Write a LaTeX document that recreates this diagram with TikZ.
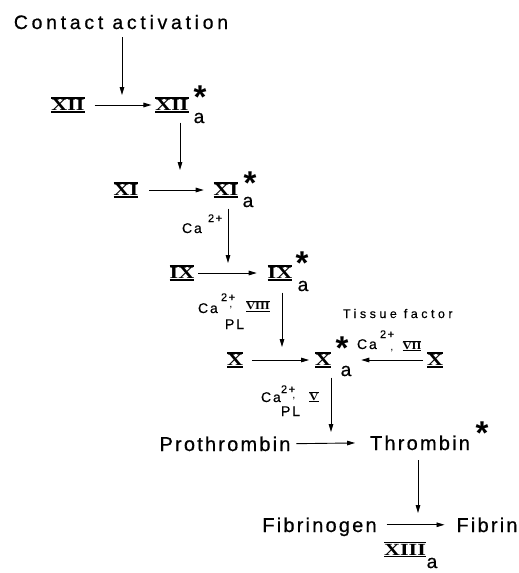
\documentclass[tikz,border=0pt]{standalone}
\usepackage{fontspec}
\usepackage{graphicx}
\setmainfont{Liberation Sans}
\newfontfamily\bigls{Liberation Sans}[LetterSpace=11,FakeBold=0.6]
\newfontfamily\cals{Liberation Sans}[LetterSpace=19,FakeBold=0.6]
\newfontfamily\tisls{Liberation Sans}[LetterSpace=28,FakeBold=0.4]
\newfontfamily\smls{Liberation Sans}[LetterSpace=14,FakeBold=0.4]
\newfontfamily\subfont{Liberation Sans}[FakeBold=0.6]
\newfontfamily\rnfont{Liberation Serif}
\usetikzlibrary{arrows.meta}
\newcommand\rnbig[1]{\setbox0=\hbox{\scalebox{1.3}[1]{\fontsize{17}{17}\selectfont\rnfont\bfseries #1}}\vbox{\hrule height 1.3pt\kern0.7pt\box0\kern0.7pt\hrule height 1.3pt}}
\newcommand\rnsmall[1]{\setbox0=\hbox{\scalebox{1.2}[1]{\fontsize{10.5}{10.5}\selectfont\rnfont\bfseries #1}}\vbox{\hrule height 0.9pt\kern0.6pt\box0\kern0.6pt\hrule height 0.9pt}}
\newcommand\myast{\raisebox{-0.40em}[0.34em][0pt]{*}}
\tikzset{
  every node/.style={inner sep=0pt, outer sep=0pt},
  arr/.style={-{Triangle[length=8pt,width=4.6pt]}, line width=0.9pt},
  big/.style={font=\fontsize{20}{22}\selectfont\bigls, anchor=base, text depth=0pt},
  starnode/.style={font=\fontsize{33}{33}\selectfont\bfseries},
  subnode/.style={font=\fontsize{19}{19}\selectfont\subfont},
  canode/.style={font=\fontsize{14}{14}\selectfont\smls, anchor=base west},
  supnode/.style={font=\fontsize{11}{11}\selectfont\smls, anchor=base west},
  commanode/.style={font=\fontsize{11}{11}\selectfont},
}
\begin{document}
\begin{tikzpicture}[x=1pt,y=-1pt]
\useasboundingbox (0,0) rectangle (519,573);
% top
\node[font=\fontsize{19.5}{22}\selectfont\cals, anchor=base] (contact) at (121,29) {Contact activation};
\node (XII) at (68,105) {\rnbig{XII}};
\node (XIIa) at (172,105) {\rnbig{XII}};
\node[starnode] (XIIas) at (200,90) {\myast};
\node[subnode] (XIIaa) at (199,118) {a};
% XI row
\node (XI) at (126,190) {\rnbig{XI}};
\node (XIa) at (226,190) {\rnbig{XI}};
\node[starnode] (XIas) at (250,176) {\myast};
\node[subnode] (XIaa) at (248,202) {a};
\node[canode] (ca1) at (182,233) {Ca};
\node[supnode] (ca1s) at (208,222) {2+};
% IX row
\node (IX) at (182,273) {\rnbig{IX}};
\node (IXa) at (280,273) {\rnbig{IX}};
\node[starnode] (IXas) at (302,256) {\myast};
\node[subnode] (IXaa) at (303,286) {a};
\node[canode] (ca2) at (198,313) {Ca};
\node[supnode] (ca2s) at (221,301) {2+};
\node[commanode] (cm2) at (231,308) {,};
\node (VIII) at (258,306.5) {\rnsmall{VIII}};
\node[canode] (pl2) at (225,329) {PL};
% X row
\node (X) at (235,360) {\rnbig{X}};
\node (Xa) at (323,360) {\rnbig{X}};
\node[starnode] (Xas) at (342,341) {\myast};
\node[subnode] (Xaa) at (346,371) {a};
\node[font=\fontsize{12.5}{12.5}\selectfont\tisls, anchor=base west] (tf) at (343,318) {Tissue factor};
\node[canode] (ca3) at (357,349) {Ca};
\node[supnode] (ca3s) at (380,338) {2+};
\node[commanode] (cm3) at (392,351) {,};
\node (VII) at (412,346) {\rnsmall{VII}};
\node (Xr) at (435,360) {\rnbig{X}};
\node[canode] (ca4) at (261,402) {Ca};
\node[supnode] (ca4s) at (281,393) {2+};
\node[commanode] (cm4) at (294,399) {,};
\node (V) at (314,397) {\rnsmall{V}};
\node[canode] (pl4) at (281,416) {PL};
% bottom
\node[big] (pro) at (225,451) {Prothrombin};
\node[big] (thr) at (420,450) {Thrombin};
\node[starnode] (thrs) at (482,426) {\myast};
\node[big] (fbg) at (319.5,532) {Fibrinogen};
\node[big] (fbn) at (487,532) {Fibrin};
\node (XIII) at (405,549.5) {\rnbig{XIII}};
\node[subnode] (XIIIa) at (432,563) {a};
% arrow end points
\coordinate (c1) at (122,95);
\coordinate (c2) at (180,170);
\coordinate (c3) at (228,263);
\coordinate (c4) at (282,347);
\coordinate (c5) at (331,432);
\coordinate (c6) at (418,513);
% vertical arrows
\draw[arr, shorten <=8pt] (contact.south -| c1) -- (c1);
\draw[arr, shorten <=10pt] (XIIa.south -| c2) -- (c2);
\draw[arr, shorten <=11pt] (XIa.south -| c3) -- (c3);
\draw[arr, shorten <=12pt] (IXa.south -| c4) -- (c4);
\draw[arr, shorten <=10pt] (Xa.south -| c5) -- (c5);
\draw[arr, shorten <=10pt] (thr.south -| c6) -- (c6);
% horizontal arrows
\draw[arr, shorten <=10pt, shorten >=4pt] (XII.east) -- (XIIa.west);
\draw[arr, shorten <=11pt, shorten >=10pt] (XI.east) -- (XIa.west);
\draw[arr, shorten <=4pt, shorten >=11pt] (IX.east) -- (IXa.west);
\draw[arr, shorten <=9pt, shorten >=6pt] (X.east) -- (Xa.west);
\draw[arr, shorten <=4pt, shorten >=10pt] (Xr.west) -- (Xr.west -| Xaa.east);
\draw[arr, shorten <=6pt, shorten >=15pt] (pro.east) -- (thr.west);
\draw[arr, shorten <=10pt, shorten >=12pt] (fbg.east) -- (fbn.west);
\end{tikzpicture}
\end{document}
